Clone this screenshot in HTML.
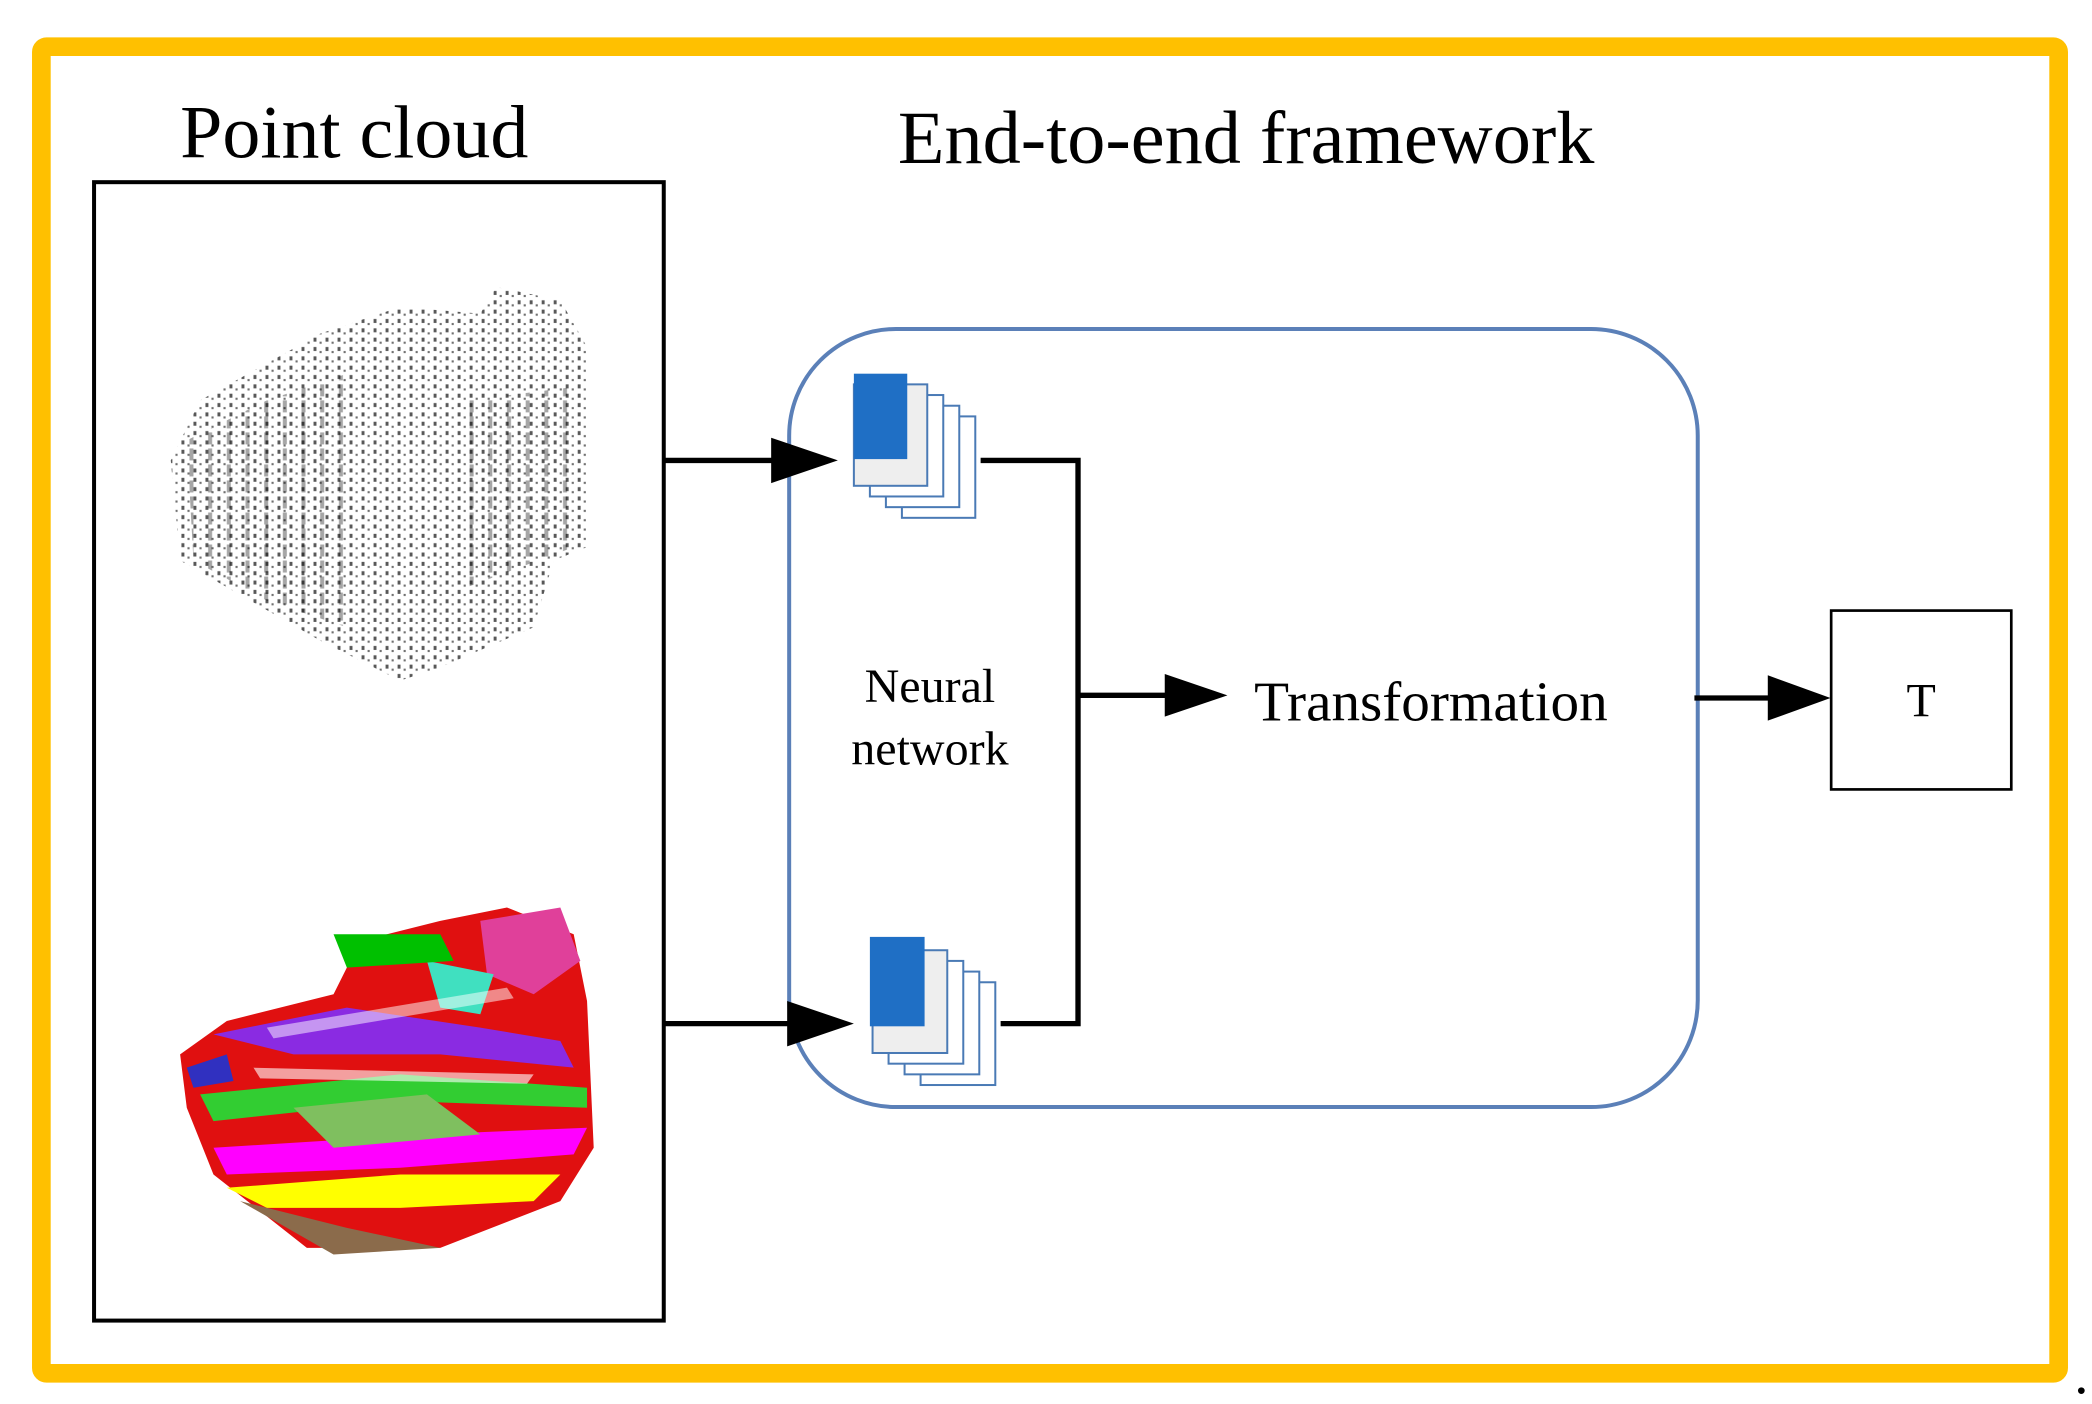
<!DOCTYPE html>
<html><head><meta charset="utf-8"><style>
html,body{margin:0;padding:0;background:#fff;}
svg{display:block;}
text{font-family:"Liberation Serif",serif;fill:#000;}
</style></head><body>
<svg width="2092" height="1404" viewBox="0 0 1568 1052" preserveAspectRatio="none" xmlns="http://www.w3.org/2000/svg">
<defs>
<pattern id="dots" width="9" height="7" patternUnits="userSpaceOnUse">
<rect x="1" y="1" width="2.2" height="3" fill="#111"/>
<rect x="5.5" y="4" width="1.6" height="1.6" fill="#333"/>
</pattern>
<pattern id="streak" width="14" height="12" patternUnits="userSpaceOnUse">
<rect x="2" y="0" width="3" height="9" fill="#000"/>
</pattern>
</defs>
<rect x="31" y="35" width="1512" height="994" fill="none" stroke="#FFC000" stroke-width="14" rx="4"/>
<rect x="70.5" y="136.5" width="427" height="853" fill="none" stroke="#000" stroke-width="3"/>
<text x="135" y="118" font-size="56" textLength="261" lengthAdjust="spacingAndGlyphs">Point cloud</text>
<text x="673" y="122" font-size="56" textLength="522" lengthAdjust="spacingAndGlyphs">End-to-end framework</text>

<!-- top point cloud -->
<path d="M128 345 L150 300 L240 250 L300 230 L360 235 L372 215 L420 225 L440 260 L440 410 L415 420 L400 470 L330 500 L300 510 L240 480 L170 440 L135 420 Z" fill="url(#dots)" opacity="0.7"/>
<path d="M140 330 L200 300 L260 280 L260 470 L200 450 L145 420 Z" fill="url(#streak)" opacity="0.35"/>
<path d="M350 300 L430 290 L430 410 L350 440 Z" fill="url(#streak)" opacity="0.35"/>

<!-- bottom colored cloud -->
<g>
<path d="M135 790 L170 765 L250 745 L270 705 L330 690 L380 680 L430 700 L440 750 L445 860 L420 900 L330 935 L230 935 L160 880 L140 830 Z" fill="#e01010"/>
<path d="M160 775 L260 755 L360 770 L420 780 L430 800 L330 790 L220 790 Z" fill="#8a2be2"/>
<path d="M150 820 L300 805 L440 815 L440 830 L300 825 L160 840 Z" fill="#32cd32"/>
<path d="M160 860 L320 850 L440 845 L430 865 L300 875 L170 880 Z" fill="#ff00ff"/>
<path d="M170 890 L300 880 L420 880 L400 900 L300 905 L200 905 Z" fill="#ffff00"/>
<path d="M220 830 L320 820 L360 850 L250 860 Z" fill="#7fbf5f"/>
<path d="M360 690 L420 680 L435 720 L400 745 L365 730 Z" fill="#e0409a"/>
<path d="M320 720 L370 730 L360 760 L330 755 Z" fill="#40e0c0"/>
<path d="M250 700 L330 700 L340 720 L260 725 Z" fill="#00c000"/>
<path d="M180 900 L260 920 L330 935 L250 940 Z" fill="#8b6b4b"/>
<path d="M140 800 L170 790 L175 810 L145 815 Z" fill="#3030c0"/>
<path d="M190 800 L400 805 L395 812 L195 808 Z" fill="#fff" opacity="0.6"/>
<path d="M200 770 L380 740 L385 748 L205 778 Z" fill="#fff" opacity="0.5"/>
</g>

<!-- container -->
<rect x="591.5" y="246.5" width="681" height="583" rx="80" fill="none" stroke="#5b80b8" stroke-width="3"/>

<!-- doc stack 1 -->
<g stroke="#4a7ab5" stroke-width="1.5" fill="#fff">
<rect x="676" y="312" width="55" height="76"/>
<rect x="664" y="304" width="55" height="76"/>
<rect x="652" y="296" width="55" height="76"/>
<rect x="640" y="288" width="55" height="76" fill="#eeeeee"/>
</g>
<rect x="640" y="280" width="40" height="64" fill="#1f6fc5"/>
<!-- doc stack 2 -->
<g stroke="#4a7ab5" stroke-width="1.5" fill="#fff">
<rect x="690" y="736" width="56" height="77"/>
<rect x="678" y="728" width="56" height="77"/>
<rect x="666" y="720" width="56" height="77"/>
<rect x="654" y="712" width="56" height="77" fill="#eeeeee"/>
</g>
<rect x="652" y="702" width="41" height="67" fill="#1f6fc5"/>

<!-- arrows -->
<g stroke="#000" stroke-width="4" fill="none">
<line x1="497" y1="345" x2="582" y2="345"/>
<line x1="497" y1="767" x2="594" y2="767"/>
<polyline points="735,345 808,345 808,767 750,767"/>
<line x1="808" y1="521" x2="876" y2="521"/>
<line x1="1270" y1="523" x2="1328" y2="523"/>
</g>
<g fill="#000">
<polygon points="578,328 628,345 578,362"/>
<polygon points="590,750 640,767 590,784"/>
<polygon points="873,505 920,521 873,537"/>
<polygon points="1325,506 1372,523 1325,540"/>
</g>

<text x="697" y="526" font-size="36" text-anchor="middle">Neural</text>
<text x="697" y="573" font-size="36" text-anchor="middle">network</text>
<text x="940" y="540" font-size="42" textLength="265" lengthAdjust="spacingAndGlyphs">Transformation</text>

<rect x="1372.5" y="457.5" width="135" height="134" fill="none" stroke="#000" stroke-width="2"/>
<text x="1440" y="537" font-size="36" text-anchor="middle">T</text>
<circle cx="1560" cy="1042" r="2.5" fill="#000"/>
</svg>
</body></html>
